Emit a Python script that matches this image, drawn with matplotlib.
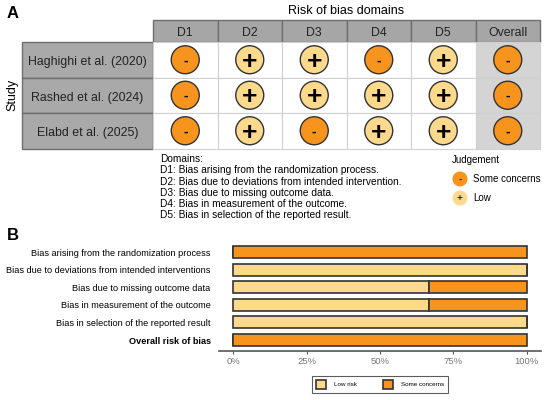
import matplotlib
matplotlib.use("Agg")
import matplotlib.pyplot as plt
from matplotlib.patches import Rectangle, Circle

plt.rcParams['font.family'] = ['Liberation Sans', 'DejaVu Sans']

# --- data ---
studies = ["Haghighi et al. (2020)", "Rashed et al. (2024)", "Elabd et al. (2025)"]
domains = ["D1", "D2", "D3", "D4", "D5", "Overall"]
judgements = [["-", "+", "+", "-", "+", "-"],
              ["-", "+", "+", "+", "+", "-"],
              ["-", "+", "-", "+", "+", "-"]]
domain_notes = ["Domains:",
                "D1: Bias arising from the randomization process.",
                "D2: Bias due to deviations from intended intervention.",
                "D3: Bias due to missing outcome data.",
                "D4: Bias in measurement of the outcome.",
                "D5: Bias in selection of the reported result."]

bar_labels = ["Bias arising from the randomization process",
              "Bias due to deviations from intended interventions",
              "Bias due to missing outcome data",
              "Bias in measurement of the outcome",
              "Bias in selection of the reported result",
              "Overall risk of bias"]
low_risk = [0, 100, 66.7, 66.7, 100, 0]
some_concerns = [100, 0, 33.3, 33.3, 0, 100]
x_ticks = [0, 25, 50, 75, 100]

ORANGE = "#F7941D"
LIGHT = "#FDD98C"
colours = {"-": ORANGE, "+": LIGHT}

fig = plt.figure(figsize=(5.5, 4), dpi=100)

# ---------- panel A (pixel coordinates) ----------
ax = fig.add_axes([0, 0, 1, 1])
ax.set_xlim(0, 550)
ax.set_ylim(400, 0)
ax.axis("off")

x0, cw = 153, 64.5
y0, hh, rh = 20, 22, 35.5
lx0 = 22

ax.text(7, 13, "A", fontsize=12, fontweight="bold", va="center")
ax.text(x0 + 3 * cw, 11, "Risk of bias domains", fontsize=9, ha="center", va="center")
ax.text(12, y0 + hh + 1.5 * rh, "Study", rotation=90, fontsize=9, ha="center", va="center")

# header
for j, d in enumerate(domains):
    ax.add_patch(Rectangle((x0 + j * cw, y0), cw, hh, facecolor="#A6A6A6",
                           edgecolor="#6E6E6E", lw=1))
    ax.text(x0 + (j + 0.5) * cw, y0 + hh / 2 + 1, d, fontsize=8.8, ha="center",
            va="center_baseline", color="#222222")

for i, s in enumerate(studies):
    yt = y0 + hh + i * rh
    ax.add_patch(Rectangle((lx0, yt), x0 - lx0, rh, facecolor="#A9A9A9",
                           edgecolor="#6E6E6E", lw=1))
    ax.text((lx0 + x0) / 2, yt + rh / 2 + 1, s, fontsize=8.9, ha="center",
            va="center_baseline", color="#222222")
    for j, jd in enumerate(judgements[i]):
        fc = "#D4D4D4" if domains[j] == "Overall" else "white"
        ax.add_patch(Rectangle((x0 + j * cw, yt), cw, rh, facecolor=fc,
                               edgecolor="#D0D0D0", lw=0.8))
        cx, cy = x0 + (j + 0.5) * cw, yt + rh / 2
        ax.add_patch(Circle((cx, cy), 14, facecolor=colours[jd], edgecolor="#333333", lw=1,
                            zorder=3))
        if jd == "+":
            ax.text(cx, cy + 2, jd, fontsize=19, ha="center", va="center", zorder=4,
                    fontweight="bold")
        else:
            ax.text(cx, cy + 0.5, jd, fontsize=10, ha="center", va="center", zorder=4,
                    fontweight="bold")

# domain notes
for k, line in enumerate(domain_notes):
    ax.text(160, 159 + k * 11.3, line, fontsize=7.3, va="center")

# judgement legend
ax.text(452, 160, "Judgement", fontsize=7, va="center")
for k, (sym, lab) in enumerate([("-", "Some concerns"), ("+", "Low")]):
    cy = 179 + k * 19
    ax.add_patch(Circle((460, cy), 7.5, facecolor=colours[sym], edgecolor="none"))
    ax.text(460, cy, sym, fontsize=7.5, ha="center", va="center")
    ax.text(473, cy, lab, fontsize=7, va="center")

ax.text(7, 236, "B", fontsize=12, fontweight="bold", va="center")

# ---------- panel B ----------
axb = fig.add_axes([219 / 550, 1 - 351 / 400, 322 / 550, 110 / 400])
ypos = list(range(len(bar_labels)))[::-1]
axb.barh(ypos, low_risk, height=0.68, color=LIGHT, edgecolor="#333333", lw=1.2,
         label="Low risk")
axb.barh(ypos, some_concerns, left=low_risk, height=0.68, color=ORANGE,
         edgecolor="#333333", lw=1.2, label="Some concerns")
axb.set_xlim(-4.8, 104.8)
axb.set_ylim(-0.625, 5.625)
axb.set_yticks(ypos)
axb.set_yticklabels(bar_labels, fontsize=6.6)
for t in axb.get_yticklabels():
    if t.get_text().startswith("Overall"):
        t.set_fontweight("bold")
axb.tick_params(axis="y", length=0, pad=6)
axb.set_xticks(x_ticks)
axb.set_xticklabels([f"{v}%" for v in x_ticks], fontsize=6.8, color="#777777")
axb.tick_params(axis="x", length=2.5, color="#555555", pad=2)
for sp in ["top", "right", "left"]:
    axb.spines[sp].set_visible(False)
axb.spines["bottom"].set_color("#555555")
axb.spines["bottom"].set_linewidth(1.2)

leg = axb.legend(loc="upper center", bbox_to_anchor=(0.5, -0.2), ncol=2, fontsize=4.5,
                 frameon=True, fancybox=False, edgecolor="#333333", handlelength=1.6,
                 handleheight=1.9, columnspacing=4.2, borderpad=0.6, handletextpad=1.3)
leg.get_frame().set_linewidth(0.8)

fig.savefig("out.png", dpi=100)
